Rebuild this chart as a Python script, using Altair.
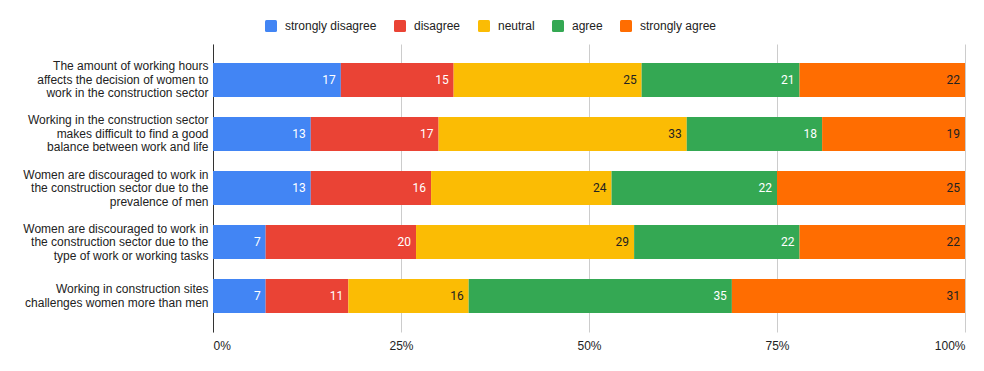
import altair as alt
import pandas as pd

categories = [
    "The amount of working hours\naffects the decision of women to\nwork in the construction sector",
    "Working in the construction sector\nmakes difficult to find a good\nbalance between work and life",
    "Women are discouraged to work in\nthe construction sector due to the\nprevalence of men",
    "Women are discouraged to work in\nthe construction sector due to the\ntype of work or working tasks",
    "Working in construction sites\nchallenges women more than men",
]
series = ["strongly disagree", "disagree", "neutral", "agree", "strongly agree"]
colors = ["#4285F4", "#EA4335", "#FBBC04", "#34A853", "#FF6D01"]

strongly_disagree = [17, 13, 13, 7, 7]
disagree = [15, 17, 16, 20, 11]
neutral = [25, 33, 24, 29, 16]
agree = [21, 18, 22, 22, 35]
strongly_agree = [22, 19, 25, 22, 31]

values = [strongly_disagree, disagree, neutral, agree, strongly_agree]

rows = []
for ci, cat in enumerate(categories):
    start = 0
    for si, s in enumerate(series):
        v = values[si][ci]
        rows.append({"category": cat, "series": s, "order": si, "value": v,
                     "start": start, "end": start + v})
        start += v
df = pd.DataFrame(rows)

FONT = "Liberation Sans"

rounded = ("M-0.75,-1 L0.75,-1 Q1,-1 1,-0.75 L1,0.75 Q1,1 0.75,1 "
           "L-0.75,1 Q-1,1 -1,0.75 L-1,-0.75 Q-1,-1 -0.75,-1 Z")

y_enc = alt.Y("category:N", sort=categories, title=None,
              scale=alt.Scale(paddingInner=0.367, paddingOuter=0.35),
              axis=alt.Axis(labelExpr="split(datum.label, '\\n')",
                            labelFont=FONT, labelFontSize=12, labelColor="#222222",
                            labelLineHeight=13.5, labelPadding=5, ticks=False,
                            labelOffset={"condition": {"test": "length(split(datum.value, '\\n')) == 2",
                                                       "value": -7},
                                         "value": -13.5},
                            domain=True, domainColor="#333333", domainWidth=1,
                            grid=False, labelLimit=300))

x_scale = alt.Scale(domain=[0, 100], nice=False)

bars = alt.Chart(df).mark_bar(size=34).encode(
    x=alt.X("start:Q", scale=x_scale, title=None,
            axis=alt.Axis(values=[0, 25, 50, 75, 100], labelExpr="datum.value + '%'",
                          labelFont=FONT, labelFontSize=12, labelColor="#222222",
                          ticks=False, domain=False, grid=True, gridColor="#cccccc",
                          labelPadding=8)),
    x2="end:Q",
    y=y_enc,
    color=alt.Color("series:N", scale=alt.Scale(domain=series, range=colors),
                    sort=series,
                    legend=alt.Legend(title=None, orient="none", direction="horizontal",
                                      legendX=52, legendY=-24,
                                      symbolType=rounded, symbolSize=144,
                                      symbolStrokeWidth=0, labelFont=FONT,
                                      labelFontSize=12, labelColor="#222222",
                                      labelOffset=8, columnPadding=17)),
    order="order:Q",
)

labels = alt.Chart(df).mark_text(align="right", baseline="middle", dx=-5,
                                 font="Roboto", fontSize=12).encode(
    x=alt.X("end:Q", scale=x_scale),
    y=alt.Y("category:N", sort=categories),
    text="value:Q",
    color=alt.condition("datum.series == 'neutral' || datum.series == 'strongly agree'",
                        alt.value("#222222"), alt.value("#ffffff")),
)

chart = alt.layer(bars, labels).properties(
    width=752, height=288,
    autosize=alt.AutoSizeParams(type="none"),
    padding={"left": 205, "top": 36, "right": 10, "bottom": 30},
).configure_view(stroke=None)

chart.save("out.html", embed_options={"renderer": "svg", "actions": False})
